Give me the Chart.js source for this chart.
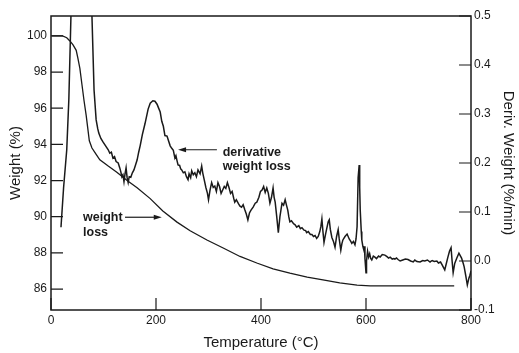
<!DOCTYPE html>
<html>
<head>
<meta charset="utf-8">
<script src="https://cdn.jsdelivr.net/npm/chart.js@4/dist/chart.umd.min.js"></script>
<style>
  html, body { margin: 0; padding: 0; background: #fff; }
</style>
</head>
<body>
<canvas id="tgaChart" width="519" height="353"></canvas>
<script>
// weight loss curve (left axis, %)
const weightTemp = [2, 22, 30, 36, 42, 48, 51, 55, 59, 63, 67, 70, 73, 78, 86, 93, 109, 126, 145, 164,
  189, 213, 240, 265, 297, 328, 360, 392, 423, 455, 488, 518, 550, 583, 608, 650, 700, 768];
const weightPct = [100.0, 100.0, 99.9, 99.72, 99.5, 99.2, 98.8, 98.2, 97.3, 96.4, 95.6, 94.9, 94.2, 93.8, 93.45, 93.15, 92.8, 92.45, 92.0, 91.6,
  91.0, 90.32, 89.7, 89.22, 88.71, 88.27, 87.8, 87.44, 87.12, 86.88, 86.66, 86.5, 86.34, 86.22, 86.17, 86.17, 86.17, 86.17];

// derivative weight loss (right axis, %/min)
const derivTemp = [19, 24, 30, 34, 38, 46, 56, 68, 78, 82, 86, 89, 91, 95, 99, 104, 109, 112, 115, 118,
  121, 124, 128, 131, 133, 135, 137, 139, 141, 143, 145, 147, 149, 152, 155, 158, 161, 164, 167, 170,
  174, 179, 185, 189, 194, 198, 202, 205, 208, 211, 214, 217, 221, 224, 227, 230, 233, 236, 238, 240,
  242, 245, 247, 249, 252, 255, 258, 261, 263, 266, 268, 271, 274, 277, 280, 284, 287, 289, 292, 295,
  298, 300, 303, 306, 309, 312, 315, 318, 321, 324, 327, 330, 333, 336, 339, 342, 345, 348, 350, 353,
  357, 360, 363, 366, 369, 372, 375, 378, 381, 385, 389, 392, 396, 399, 402, 405, 408, 411, 414, 417,
  420, 423, 425, 427, 430, 433, 436, 440, 443, 446, 449, 451, 453, 455, 458, 462, 465, 468, 472, 475,
  478, 482, 485, 487, 490, 494, 497, 500, 503, 506, 509, 512, 514, 516, 518, 520, 523, 525, 528, 530,
  532, 535, 538, 541, 544, 547, 549, 552, 554, 556, 560, 564, 568, 571, 573, 576, 579, 581, 583, 585,
  587, 588, 589, 591, 592, 594, 596, 597, 598, 600, 601, 603, 605, 607, 609, 611, 614, 617, 620, 624,
  627, 631, 636, 640, 643, 646, 650, 653, 655, 658, 661, 665, 670, 675, 680, 685, 690, 693, 697, 703,
  708, 712, 717, 722, 726, 730, 735, 738, 742, 745, 748, 750, 753, 756, 759, 762, 764, 766, 769, 773,
  777, 780, 782, 785, 787, 790, 793, 796, 798, 800];
const derivRate = [0.069, 0.15, 0.227, 0.33, 0.5, 0.85, 1.0, 0.8, 0.5, 0.349, 0.288, 0.27, 0.261, 0.25, 0.243, 0.235, 0.227, 0.22, 0.222, 0.21,
  0.213, 0.203, 0.2, 0.19, 0.182, 0.172, 0.176, 0.162, 0.178, 0.19, 0.17, 0.16, 0.172, 0.171, 0.18, 0.186, 0.196, 0.206, 0.222, 0.236,
  0.258, 0.28, 0.31, 0.322, 0.327, 0.326, 0.32, 0.312, 0.304, 0.285, 0.275, 0.256, 0.255, 0.245, 0.235, 0.23, 0.226, 0.21, 0.215, 0.205,
  0.196, 0.195, 0.188, 0.186, 0.18, 0.182, 0.172, 0.166, 0.178, 0.17, 0.184, 0.176, 0.18, 0.172, 0.186, 0.178, 0.194, 0.18, 0.165, 0.15,
  0.138, 0.125, 0.145, 0.16, 0.15, 0.153, 0.142, 0.16, 0.152, 0.138, 0.145, 0.152, 0.148, 0.16, 0.15, 0.138, 0.142, 0.128, 0.12, 0.125,
  0.117, 0.112, 0.11, 0.115, 0.105, 0.096, 0.084, 0.098, 0.104, 0.11, 0.118, 0.12, 0.13, 0.142, 0.145, 0.152, 0.14, 0.149, 0.138, 0.118,
  0.13, 0.149, 0.13, 0.12, 0.09, 0.058, 0.09, 0.118, 0.114, 0.125, 0.112, 0.104, 0.09, 0.08, 0.082, 0.076, 0.074, 0.069, 0.072, 0.066,
  0.068, 0.063, 0.062, 0.058, 0.06, 0.054, 0.054, 0.05, 0.052, 0.046, 0.05, 0.06, 0.07, 0.086, 0.06, 0.038, 0.055, 0.065, 0.08, 0.084,
  0.065, 0.048, 0.04, 0.028, 0.05, 0.064, 0.045, 0.022, 0.035, 0.043, 0.05, 0.055, 0.045, 0.04, 0.036, 0.04, 0.033, 0.045, 0.07, 0.17,
  0.196, 0.15, 0.104, 0.06, 0.043, 0.03, 0.022, 0.03, 0.005, -0.024, 0.0, 0.02, 0.008, 0.015, 0.005, 0.002, 0.01, 0.008, 0.005, 0.01,
  0.008, 0.013, 0.012, 0.009, 0.006, 0.008, 0.004, 0.005, 0.004, 0.006, 0.003, 0.0, 0.002, 0.004, 0.003, 0.0, -0.002, 0.002, -0.001, -0.002,
  0.001, 0.0, 0.002, -0.002, 0.001, -0.001, 0.0, -0.004, -0.002, -0.008, -0.014, -0.018, -0.005, 0.008, 0.02, 0.027, 0.0, -0.024, -0.005, 0.006,
  0.016, 0.01, 0.006, -0.004, -0.012, -0.03, -0.049, -0.035, -0.029, -0.02];

const tempTicks = [0, 200, 400, 600, 800];
const weightTicks = [86, 88, 90, 92, 94, 96, 98, 100];
const derivTicks = [-0.1, 0, 0.1, 0.2, 0.3, 0.4, 0.5];

const INK = '#1a1a1a';
const FONT = '"Liberation Sans", Arial, sans-serif';

const toPoints = (xs, ys) => xs.map((x, i) => ({ x: x, y: ys[i] }));

// box round the plot and short tick marks pointing inward
const frameTicks = {
    id: 'frameTicks',
    afterDatasetsDraw(chart) {
        const { ctx, chartArea: a, scales } = chart;
        const len = 12;
        ctx.save();
        ctx.strokeStyle = INK;
        ctx.lineWidth = 1.5;
        ctx.strokeRect(a.left, a.top, a.right - a.left, a.bottom - a.top);
        ctx.lineWidth = 1.2;
        ctx.beginPath();
        tempTicks.forEach(v => {
            const px = scales.x.getPixelForValue(v);
            ctx.moveTo(px, a.bottom);
            ctx.lineTo(px, a.bottom - len);
        });
        weightTicks.forEach(v => {
            const py = scales.y.getPixelForValue(v);
            ctx.moveTo(a.left, py);
            ctx.lineTo(a.left + len, py);
        });
        derivTicks.forEach(v => {
            const py = scales.y1.getPixelForValue(v);
            ctx.moveTo(a.right, py);
            ctx.lineTo(a.right - len, py);
        });
        ctx.stroke();
        ctx.restore();
    }
};

function arrow(ctx, x0, y, x1) {
    const dir = Math.sign(x1 - x0);
    ctx.beginPath();
    ctx.moveTo(x0, y);
    ctx.lineTo(x1 - dir * 6, y);
    ctx.stroke();
    ctx.beginPath();
    ctx.moveTo(x1, y);
    ctx.lineTo(x1 - dir * 8, y - 2.5);
    ctx.lineTo(x1 - dir * 8, y + 2.5);
    ctx.closePath();
    ctx.fill();
}

// the two curve labels with their arrows
const curveLabels = {
    id: 'curveLabels',
    afterDraw(chart) {
        const { ctx, scales } = chart;
        const x = v => scales.x.getPixelForValue(v);
        ctx.save();
        ctx.fillStyle = INK;
        ctx.strokeStyle = INK;
        ctx.lineWidth = 1.2;
        ctx.font = 'bold 12.5px ' + FONT;
        ctx.textBaseline = 'middle';

        const d = v => scales.y1.getPixelForValue(v);
        ctx.fillText('derivative', x(327), d(0.222));
        ctx.fillText('weight loss', x(327), d(0.193));
        arrow(ctx, x(316), d(0.227), x(242));

        const w = v => scales.y.getPixelForValue(v);
        ctx.fillText('weight', x(61), w(89.93));
        ctx.fillText('loss', x(61), w(89.15));
        arrow(ctx, x(141), w(89.97), x(211));
        ctx.restore();
    }
};

new Chart(document.getElementById('tgaChart'), {
    type: 'line',
    data: {
        datasets: [
            {
                label: 'weight loss',
                data: toPoints(weightTemp, weightPct),
                yAxisID: 'y',
                borderColor: INK,
                borderWidth: 1.3,
                pointRadius: 0,
                tension: 0
            },
            {
                label: 'derivative weight loss',
                data: toPoints(derivTemp, derivRate),
                yAxisID: 'y1',
                borderColor: INK,
                borderWidth: 1.5,
                pointRadius: 0,
                tension: 0
            }
        ]
    },
    options: {
        responsive: false,
        animation: false,
        layout: { padding: { top: 16, left: 0, right: 0, bottom: 0 } },
        plugins: {
            legend: { display: false },
            tooltip: { enabled: false }
        },
        scales: {
            x: {
                type: 'linear',
                min: 0,
                max: 800,
                afterFit: s => { s.height = 43; },
                afterBuildTicks: s => { s.ticks = tempTicks.map(v => ({ value: v })); },
                grid: { display: false, drawTicks: false },
                border: { display: false },
                ticks: { padding: 3, color: INK, font: { family: FONT, size: 12 }, maxRotation: 0 },
                title: {
                    display: true,
                    text: 'Temperature (°C)',
                    color: INK,
                    font: { family: FONT, size: 15 },
                    padding: { top: 0, bottom: 1 }
                }
            },
            y: {
                type: 'linear',
                position: 'left',
                min: 84.84,
                max: 101.1,
                afterFit: s => { s.width = 51; },
                afterBuildTicks: s => { s.ticks = weightTicks.map(v => ({ value: v })); },
                grid: { display: false, drawTicks: false },
                border: { display: false },
                ticks: { padding: 4, color: INK, font: { family: FONT, size: 12 } },
                title: {
                    display: true,
                    text: 'Weight (%)',
                    color: INK,
                    font: { family: FONT, size: 15 },
                    padding: { top: 7, bottom: 0 }
                }
            },
            y1: {
                type: 'linear',
                position: 'right',
                min: -0.1,
                max: 0.5,
                afterFit: s => { s.width = 48; },
                afterBuildTicks: s => { s.ticks = derivTicks.map(v => ({ value: v })); },
                grid: { display: false, drawTicks: false },
                border: { display: false },
                ticks: {
                    padding: 3,
                    color: INK,
                    font: { family: FONT, size: 12 },
                    callback: v => v.toFixed(1)
                },
                title: {
                    display: true,
                    text: 'Deriv. Weight (%/min)',
                    color: INK,
                    font: { family: FONT, size: 15 },
                    padding: { top: 2, bottom: 0 }
                }
            }
        }
    },
    plugins: [frameTicks, curveLabels]
});
</script>
</body>
</html>
